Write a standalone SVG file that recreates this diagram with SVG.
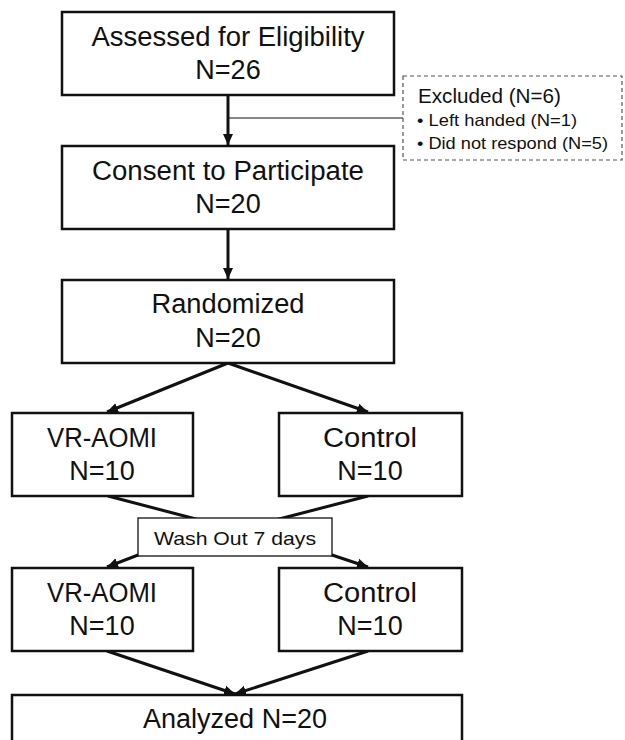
<svg xmlns="http://www.w3.org/2000/svg" width="625" height="740" viewBox="0 0 625 740">
<style>
.box{fill:#fff;stroke:#111;stroke-width:2.5}
.t{font-family:"Liberation Sans",Arial,sans-serif;fill:#111;text-anchor:middle;font-size:27px}
.s{font-family:"Liberation Sans",Arial,sans-serif;fill:#111}
.c{fill:none;stroke:#111;stroke-width:3}
</style>
<defs>
<marker id="ah" markerUnits="userSpaceOnUse" markerWidth="12" markerHeight="12" viewBox="0 0 12 12" refX="11" refY="6" orient="auto">
<path d="M0,1 L11,6 L0,11 z" fill="#111"/>
</marker>
</defs>
<rect width="625" height="740" fill="#fff"/>
<g id="connectors">
<line class="c" x1="228" y1="95" x2="228" y2="145" marker-end="url(#ah)"/>
<line x1="228" y1="118" x2="403" y2="118" stroke="#111" stroke-width="1.2"/>
<line class="c" x1="228" y1="229" x2="228" y2="279" marker-end="url(#ah)"/>
<line class="c" x1="228" y1="363" x2="107" y2="412" marker-end="url(#ah)"/>
<line class="c" x1="228" y1="363" x2="368" y2="412" marker-end="url(#ah)"/>
<path class="c" d="M108,496 L192,518 L332,555 L368,567" marker-end="url(#ah)"/>
<path class="c" d="M368,496 L283,518 L138,555 L107,567" marker-end="url(#ah)"/>
<line class="c" x1="107" y1="651" x2="235" y2="694" marker-end="url(#ah)"/>
<line class="c" x1="368" y1="651" x2="235" y2="694" marker-end="url(#ah)"/>
</g>
<g id="assessed">
<rect class="box" x="62" y="12" width="332" height="83"/>
<text class="t" x="228" y="46" textLength="273" lengthAdjust="spacingAndGlyphs">Assessed for Eligibility</text>
<text class="t" x="228" y="79">N=26</text>
</g>
<g id="excluded">
<rect x="403" y="76" width="219" height="84" fill="#fff" stroke="#555" stroke-width="1.2" stroke-dasharray="4 3"/>
<text class="s" x="418" y="103" font-size="19.5" textLength="143" lengthAdjust="spacingAndGlyphs">Excluded (N=6)</text>
<text class="s" x="417" y="126" font-size="16.5" textLength="160" lengthAdjust="spacingAndGlyphs">• Left handed (N=1)</text>
<text class="s" x="417" y="149" font-size="16.5" textLength="191" lengthAdjust="spacingAndGlyphs">• Did not respond (N=5)</text>
</g>
<g id="consent">
<rect class="box" x="62" y="146" width="332" height="83"/>
<text class="t" x="228" y="180" textLength="272" lengthAdjust="spacingAndGlyphs">Consent to Participate</text>
<text class="t" x="228" y="213">N=20</text>
</g>
<g id="randomized">
<rect class="box" x="62" y="280" width="332" height="83"/>
<text class="t" x="228" y="313" textLength="153" lengthAdjust="spacingAndGlyphs">Randomized</text>
<text class="t" x="228" y="347">N=20</text>
</g>
<g id="vraomi1">
<rect class="box" x="12" y="413" width="181" height="83"/>
<text class="t" x="102" y="447" textLength="110" lengthAdjust="spacingAndGlyphs">VR-AOMI</text>
<text class="t" x="102" y="480">N=10</text>
</g>
<g id="control1">
<rect class="box" x="279" y="413" width="183" height="83"/>
<text class="t" x="370" y="447" textLength="94" lengthAdjust="spacingAndGlyphs">Control</text>
<text class="t" x="370" y="480">N=10</text>
</g>
<g id="washout">
<rect x="138" y="518" width="194" height="38" fill="#fff" stroke="#111" stroke-width="1.3"/>
<text class="s" x="235" y="545" font-size="18.5" text-anchor="middle" textLength="162" lengthAdjust="spacingAndGlyphs">Wash Out 7 days</text>
</g>
<g id="vraomi2">
<rect class="box" x="12" y="568" width="181" height="83"/>
<text class="t" x="102" y="602" textLength="110" lengthAdjust="spacingAndGlyphs">VR-AOMI</text>
<text class="t" x="102" y="635">N=10</text>
</g>
<g id="control2">
<rect class="box" x="279" y="568" width="183" height="83"/>
<text class="t" x="370" y="602" textLength="94" lengthAdjust="spacingAndGlyphs">Control</text>
<text class="t" x="370" y="635">N=10</text>
</g>
<g id="analyzed">
<rect class="box" x="12" y="695" width="450" height="60"/>
<text class="t" x="235" y="728" textLength="184" lengthAdjust="spacingAndGlyphs">Analyzed N=20</text>
</g>
</svg>
